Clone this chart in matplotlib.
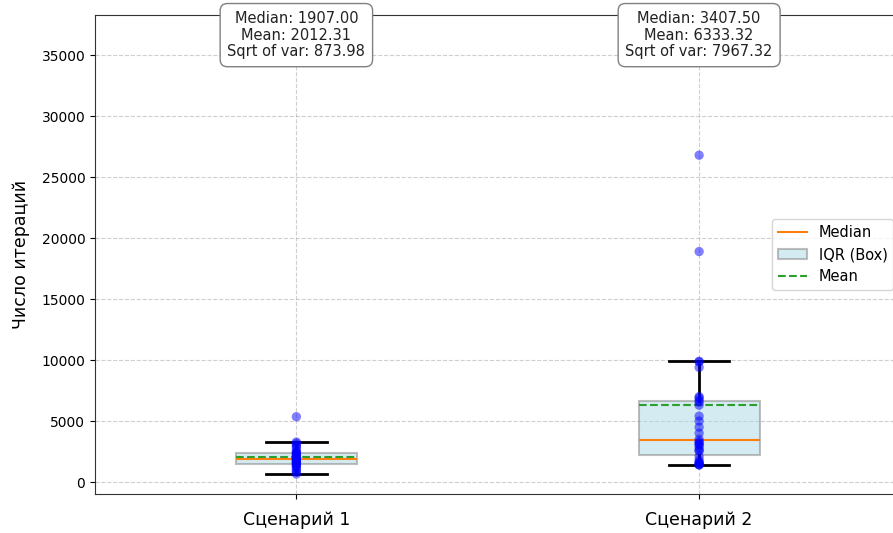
import matplotlib
matplotlib.use("Agg")
import matplotlib.pyplot as plt
from matplotlib import cbook
from matplotlib.lines import Line2D
from matplotlib.patches import Patch

categories = ["Сценарий 1", "Сценарий 2"]
scenario1 = [656, 800, 950, 1100, 1250, 1350, 1400, 1450, 1550, 1600, 1650, 1700,
             1800, 1850, 1880, 1934, 2000, 2050, 2150, 2200, 2300, 2380, 2410, 2500,
             2700, 2900, 3000, 3150, 3279, 5352]
scenario2 = [1393, 1400, 1450, 1500, 1550, 1650, 1800, 2100, 2550, 2600, 2800, 3000,
             3100, 3200, 3315, 3500, 4000, 4500, 5000, 5400, 6300, 6550, 6700, 6900,
             7000, 9400, 9850, 9900, 18900, 26800]
medians_txt = [1907.00, 3407.50]
means_txt = [2012.31, 6333.32]
sqrtvar_txt = [873.98, 7967.32]
yticks = [0, 5000, 10000, 15000, 20000, 25000, 30000, 35000]

data = [scenario1, scenario2]
positions = [1, 2]

fig = plt.figure(figsize=(8.93, 5.33), dpi=100)
ax = fig.add_axes([95 / 893, 39 / 533, 805.5 / 893, 479 / 533])

stats = cbook.boxplot_stats(data)
for s, m in zip(stats, means_txt):
    s["mean"] = m

ax.bxp(stats, positions=positions, widths=0.3, patch_artist=True,
       showmeans=True, meanline=True, showfliers=False,
       boxprops=dict(facecolor="lightblue", edgecolor="gray", alpha=0.5, linewidth=1.5),
       medianprops=dict(color="#ff7f0e", linewidth=1.5),
       meanprops=dict(color="#2ca02c", linestyle="--", linewidth=1.5),
       whiskerprops=dict(color="black", linewidth=2),
       capprops=dict(color="black", linewidth=2))

for p, d in zip(positions, data):
    ax.scatter([p] * len(d), d, color="blue", alpha=0.5, s=45, zorder=3, edgecolors="none")

ax.set_xlim(0.5, 2.5)
ax.set_ylim(-984, 38300)
ax.set_yticks(yticks)
ax.set_xticks(positions)
ax.set_xticklabels(categories, fontsize=12.5)
ax.tick_params(axis="x", pad=9)
ax.tick_params(axis="y", labelsize=10)
ax.set_ylabel("Число итераций", fontsize=12.5, labelpad=8)
ax.grid(True, linestyle="--", alpha=0.6)
ax.set_axisbelow(True)
for sp in ax.spines.values():
    sp.set_color("#333333")

for p, md, mn, sv in zip(positions, medians_txt, means_txt, sqrtvar_txt):
    ax.text(p, 36650, f"Median: {md:.2f}\nMean: {mn:.2f}\nSqrt of var: {sv:.2f}",
            ha="center", va="center", fontsize=10.5, zorder=5, color="#222222",
            linespacing=1.15,
            bbox=dict(boxstyle="round,pad=0.5", facecolor="white", edgecolor="gray"))

handles = [Line2D([0], [0], color="#ff7f0e", linewidth=1.5),
           Patch(facecolor="lightblue", edgecolor="gray", alpha=0.5, linewidth=1.5),
           Line2D([0], [0], color="#2ca02c", linestyle="--", linewidth=1.5)]
ax.legend(handles, ["Median", "IQR (Box)", "Mean"], loc="center right", fontsize=10.5)

fig.savefig("out.png", dpi=100)
